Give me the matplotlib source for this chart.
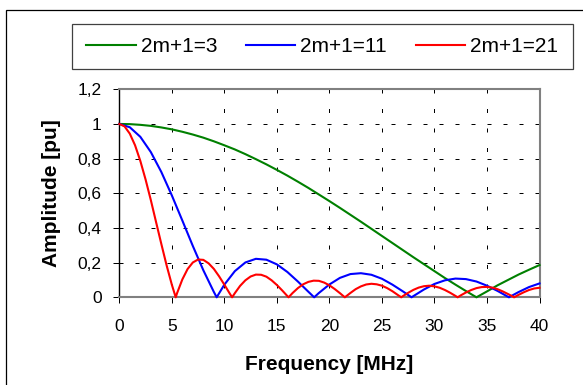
import matplotlib
matplotlib.use("Agg")
import matplotlib.pyplot as plt
from matplotlib.patches import Rectangle

plt.rcParams['font.family'] = 'Liberation Sans'

# values
freq_3 = list(range(0, 41))
amp_3 = [1.0, 0.999, 0.995, 0.989, 0.980, 0.969, 0.955, 0.939, 0.921, 0.900,
         0.877, 0.853, 0.826, 0.797, 0.767, 0.735, 0.702, 0.667, 0.631, 0.593,
         0.555, 0.516, 0.476, 0.436, 0.395, 0.354, 0.313, 0.272, 0.231, 0.191,
         0.151, 0.111, 0.073, 0.036, 0.0, 0.034, 0.069, 0.100, 0.131, 0.159,
         0.186]

freq_11 = [0, 1, 2, 3, 4, 5, 6, 7, 8, 9, 9.27, 10, 11, 12, 13, 14, 15, 16, 17,
           18, 18.55, 19, 20, 21, 22, 23, 24, 25, 26, 27, 27.82, 28, 29, 30,
           31, 32, 33, 34, 35, 36, 37.09, 38, 39, 40]
amp_11 = [1.0, 0.981, 0.926, 0.838, 0.723, 0.588, 0.443, 0.296, 0.156, 0.031,
          0.0, 0.073, 0.151, 0.201, 0.222, 0.217, 0.190, 0.146, 0.091,
          0.032, 0.0, 0.025, 0.074, 0.112, 0.134, 0.139, 0.130, 0.107, 0.073,
          0.034, 0.0, 0.007, 0.045, 0.077, 0.098, 0.108, 0.105, 0.091, 0.067,
          0.037, 0.0, 0.030, 0.059, 0.080]

freq_21 = [0, 0.5, 1, 1.5, 2, 2.5, 3, 3.5, 4, 4.5, 5, 5.37, 5.5, 6, 6.5, 7,
           7.5, 8, 8.5, 9, 9.5, 10, 10.5, 10.74, 11, 11.5, 12, 12.5, 13, 13.5,
           14, 14.5, 15, 15.5, 16, 16.11, 16.5, 17, 17.5, 18, 18.5, 19, 19.5,
           20, 20.5, 21, 21.47, 22, 22.5, 23, 23.5, 24, 24.5, 25, 25.5, 26,
           26.5, 26.84, 27, 27.5, 28, 28.5, 29, 29.5, 30, 30.5, 31, 31.5, 32,
           32.21, 32.5, 33, 33.5, 34, 34.5, 35, 35.5, 36, 36.5, 37, 37.5,
           37.58, 38, 38.5, 39, 39.5, 40]
amp_21 = [1.0, 0.986, 0.944, 0.877, 0.787, 0.680, 0.561, 0.434, 0.308, 0.185,
          0.073, 0.0, 0.024, 0.103, 0.163, 0.201, 0.218, 0.216, 0.196, 0.164,
          0.121, 0.073, 0.023, 0.0, 0.024, 0.066, 0.098, 0.120, 0.131, 0.130,
          0.119, 0.098, 0.071, 0.040, 0.007, 0.0, 0.025, 0.053, 0.075, 0.089,
          0.096, 0.095, 0.085, 0.069, 0.048, 0.024, 0.0, 0.025, 0.047, 0.063,
          0.074, 0.078, 0.075, 0.067, 0.053, 0.035, 0.014, 0.0, 0.007, 0.026,
          0.043, 0.056, 0.064, 0.067, 0.063, 0.055, 0.042, 0.026, 0.008, 0.0,
          0.011, 0.028, 0.042, 0.053, 0.059, 0.060, 0.056, 0.047, 0.034, 0.019,
          0.003, 0.0, 0.014, 0.029, 0.042, 0.051, 0.055]

labels = ["2m+1=3", "2m+1=11", "2m+1=21"]
xticks = [0, 5, 10, 15, 20, 25, 30, 35, 40]
yticks = [0, 0.2, 0.4, 0.6, 0.8, 1.0, 1.2]
ytick_labels = ["0", "0,2", "0,4", "0,6", "0,8", "1", "1,2"]

W, H = 583, 385
fig = plt.figure(figsize=(W / 100, H / 100), dpi=100)

# outer chart border
fig.add_artist(Rectangle((6.3 / W, -0.5), 2, 1 - 10 / H + 0.5,
                         transform=fig.transFigure, fill=False,
                         edgecolor='black', lw=0.9))

ax = fig.add_axes([119.3 / W, 1 - 297.3 / H, (539.5 - 119.3) / W,
                   (297.3 - 89.3) / H])

l1, = ax.plot(freq_3, amp_3, color='#008000', lw=1.5, zorder=3, clip_on=False)
l2, = ax.plot(freq_11, amp_11, color='#0000ff', lw=1.5, zorder=3, clip_on=False)
l3, = ax.plot(freq_21, amp_21, color='#ff0000', lw=1.5, zorder=3, clip_on=False)

for x in xticks[1:-1]:
    ax.axvline(x, ymin=1, ymax=0, color='black', lw=0.72,
               ls=(0, (4, 15.5)), zorder=1)
for y in yticks[1:-1]:
    ax.axhline(y, color='black', lw=0.72, ls=(0, (4, 12)), zorder=1)

ax.set_xlim(0, 40)
ax.set_ylim(0, 1.2)
ax.set_xticks(xticks)
ax.set_xticklabels([str(x) for x in xticks])
ax.set_yticks(yticks)
ax.set_yticklabels(ytick_labels)

for s in ['top', 'right', 'bottom']:
    ax.spines[s].set_color('#808080')
    ax.spines[s].set_linewidth(1.5)
ax.spines['left'].set_color('black')
ax.spines['left'].set_linewidth(1.0)

ax.tick_params(axis='y', direction='out', length=4.3, width=0.72,
               pad=8.3, labelsize=12.5)
ax.tick_params(axis='x', direction='out', length=4.3, width=0.72,
               pad=11, labelsize=12.5)

ax.set_xlabel("Frequency [MHz]", fontsize=15, fontweight='bold')
ax.set_ylabel("Amplitude [pu]", fontsize=15, fontweight='bold')
ax.xaxis.set_label_coords(0.5, -0.277)
ax.yaxis.set_label_coords(-0.139, 0.5)

# legend box
fig.add_artist(Rectangle((71.7 / W, 1 - 69.3 / H), (573 - 71.7) / W,
                         (69.3 - 24) / H, transform=fig.transFigure,
                         fill=False, edgecolor='#404040', lw=0.9))
fig.legend([l1, l2, l3], labels, loc='center',
           bbox_to_anchor=(322.4 / W, 1 - 46.7 / H), ncol=3, frameon=False,
           fontsize=15, handlelength=2.36, handletextpad=0.24,
           columnspacing=1.4, borderpad=0)

fig.savefig("out.png", dpi=100)
